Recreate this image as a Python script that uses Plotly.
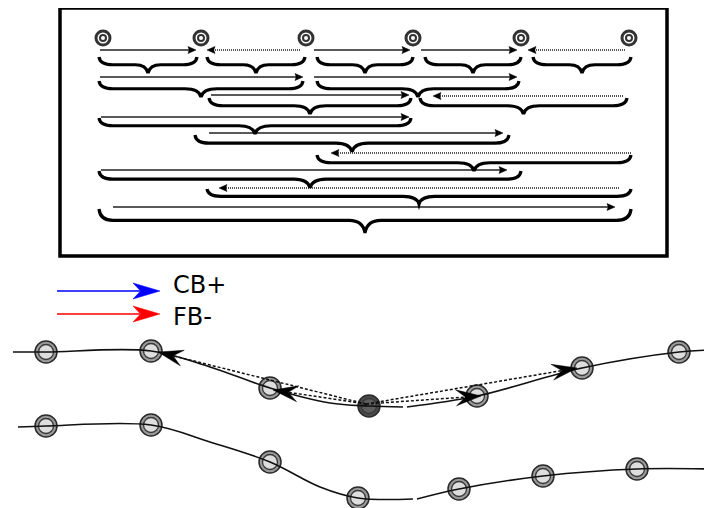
import math
import plotly.graph_objects as go

W, H = 712, 508
PAGE_OFF = 8  # default body margin of the html page

# ---------------- top box data ----------------
box_x = [60, 667]
box_y = [8, 256]

node_x = [103, 201, 306, 413, 521, 629]
node_y = [38, 38, 38, 38, 38, 38]

arr_x0 = [100, 300, 314, 421, 625, 100, 314, 211, 623, 101, 209, 631, 101, 619, 113]
arr_x1 = [196, 207, 410, 517, 528, 303, 517, 409, 433, 409, 503, 331, 507, 219, 615]
arr_y = [50, 50, 50, 50, 50, 77, 77, 95, 96, 117, 133, 153, 170, 188, 207]
arr_dotted = [False, True, False, False, True, False, False, False, True,
              False, False, True, False, True, False]

brace_x0 = [99, 207, 317, 425, 533, 99, 317, 209, 420, 99, 195, 317, 99, 207, 99]
brace_x1 = [197, 305, 413, 521, 631, 303, 519, 411, 627, 411, 509, 631, 521, 631, 631]
brace_top = [58, 58, 58, 58, 58, 82, 82, 99, 99, 119, 136, 156, 172, 190, 210]
brace_tip = [73, 73, 73, 73, 73, 97, 97, 114, 114, 134, 152, 171, 188, 204, 233]

# ---------------- legend ----------------
legend_labels = ["CB+", "FB-"]
legend_colors = ["#0000ff", "#ff0000"]
legend_y = [291, 314]
legend_text_y = [285, 317]
legend_x0 = 57
legend_x1 = 160

# ---------------- lower curves ----------------
upA_x = [13, 46, 151, 210, 270, 330, 369, 403]
upA_y = [352, 352, 351, 367, 388, 403, 406, 407]
upB_x = [407, 477, 582, 679, 712]
upB_y = [407, 396, 368, 352, 350]

loA_x = [18, 46, 151, 210, 270, 320, 358, 413]
loA_y = [427, 426, 425, 442, 462, 487, 498, 499]
loB_x = [417, 459, 543, 637, 708]
loB_y = [499, 489, 476, 469, 469]

up_node_x = [46, 151, 270, 477, 582, 679]
up_node_y = [352, 351, 388, 396, 368, 352]
lo_node_x = [46, 151, 270, 358, 459, 543, 637]
lo_node_y = [426, 425, 462, 498, 489, 476, 469]
dark_x = [369]
dark_y = [406]

dash_start = (366, 404)
dash_tip_x = [158, 273, 481, 577]
dash_tip_y = [352, 390, 396, 368]

fig = go.Figure()
shapes = []


def brace_path(x0, x1, yt, yb):
    xc = (x0 + x1) / 2.0
    ym = yt + 0.45 * (yb - yt)
    r = min(14, (x1 - x0) * 0.14)
    rc = min(16, (x1 - x0) * 0.13)
    return (f"M {x0},{yt - 1} Q {x0 + 1},{ym} {x0 + r},{ym} "
            f"L {xc - rc},{ym} Q {xc - 2},{ym} {xc},{yb} "
            f"Q {xc + 2},{ym} {xc + rc},{ym} "
            f"L {x1 - r},{ym} Q {x1 - 1},{ym} {x1},{yt - 1}")


def head_path(tx, ty, dx, dy, L, Wd, notch):
    n = math.hypot(dx, dy)
    ux, uy = dx / n, dy / n
    nx, ny = -uy, ux
    bx, by = tx - L * ux, ty - L * uy
    p1 = (bx + Wd * nx, by + Wd * ny)
    p2 = (tx - notch * L * ux, ty - notch * L * uy)
    p3 = (bx - Wd * nx, by - Wd * ny)
    return (f"M {tx},{ty} L {p1[0]},{p1[1]} L {p2[0]},{p2[1]} "
            f"L {p3[0]},{p3[1]} Z")


# box frame
shapes.append(dict(type="rect", xref="x", yref="y", x0=box_x[0], x1=box_x[1],
                   y0=box_y[0], y1=box_y[1], line=dict(color="black", width=3.5),
                   layer="below"))

# braces
for x0, x1, yt, yb in zip(brace_x0, brace_x1, brace_top, brace_tip):
    shapes.append(dict(type="path", xref="x", yref="y", path=brace_path(x0, x1, yt, yb),
                       line=dict(color="black", width=3.2)))

# box arrows
for x0, x1, y, dot in zip(arr_x0, arr_x1, arr_y, arr_dotted):
    d = 1 if x1 > x0 else -1
    fig.add_trace(go.Scatter(x=[x0, x1 - d * 5], y=[y, y], mode="lines",
                             line=dict(color="#222" if not dot else "#555",
                                       width=1.5 if not dot else 2,
                                       dash="solid" if not dot else "1px,1px"),
                             hoverinfo="skip", showlegend=False))
    shapes.append(dict(type="path", xref="x", yref="y",
                       path=head_path(x1, y, d, 0, 8, 3.5, 0.85),
                       fillcolor="black", line=dict(color="black", width=0.5)))

# box nodes (concentric)
fig.add_trace(go.Scatter(x=node_x, y=node_y, mode="markers",
                         marker=dict(size=14, color="white", line=dict(color="#333", width=3)),
                         hoverinfo="skip", showlegend=False))
fig.add_trace(go.Scatter(x=node_x, y=node_y, mode="markers",
                         marker=dict(size=6, color="white", line=dict(color="#333", width=2)),
                         hoverinfo="skip", showlegend=False))

# legend arrows + text
for lab, col, y, ty in zip(legend_labels, legend_colors, legend_y, legend_text_y):
    fig.add_trace(go.Scatter(x=[legend_x0, legend_x1 - 20], y=[y, y], mode="lines",
                             line=dict(color=col, width=1.5),
                             hoverinfo="skip", showlegend=False))
    shapes.append(dict(type="path", xref="x", yref="y",
                       path=head_path(legend_x1, y, 1, 0, 27, 8, 0.72),
                       fillcolor=col, line=dict(color=col, width=0.5)))
    fig.add_annotation(x=171, y=ty, xref="x", yref="y", text=lab, showarrow=False,
                       xanchor="left", yanchor="middle",
                       font=dict(family="DejaVu Sans", size=24, color="black"))

# lower nodes
def nodes(xs, ys, outer, inner):
    fig.add_trace(go.Scatter(x=xs, y=ys, mode="markers",
                             marker=dict(size=22, color=outer, line=dict(color="#2a2a2a", width=1.5)),
                             hoverinfo="skip", showlegend=False))
    fig.add_trace(go.Scatter(x=xs, y=ys, mode="markers",
                             marker=dict(size=15, color=inner, line=dict(color="#3a3a3a", width=1.3)),
                             hoverinfo="skip", showlegend=False))

nodes(up_node_x, up_node_y, "#9a9a9a", "#dedede")
nodes(lo_node_x, lo_node_y, "#9a9a9a", "#dedede")
nodes(dark_x, dark_y, "#4a4a4a", "#5e5e5e")

# curves
for xs, ys in [(upA_x, upA_y), (upB_x, upB_y), (loA_x, loA_y), (loB_x, loB_y)]:
    fig.add_trace(go.Scatter(x=xs, y=ys, mode="lines",
                             line=dict(color="#111", width=1.6, shape="spline", smoothing=1.0),
                             hoverinfo="skip", showlegend=False))

# dashed arrows
for tx, ty in zip(dash_tip_x, dash_tip_y):
    dx, dy = tx - dash_start[0], ty - dash_start[1]
    n = math.hypot(dx, dy)
    ex, ey = tx - dx / n * 12, ty - dy / n * 12
    fig.add_trace(go.Scatter(x=[dash_start[0], ex], y=[dash_start[1], ey], mode="lines",
                             line=dict(color="#111", width=1.5, dash="3px,2px"),
                             hoverinfo="skip", showlegend=False))
    shapes.append(dict(type="path", xref="x", yref="y",
                       path=head_path(tx, ty, dx, dy, 25, 8, 0.62),
                       fillcolor="black", line=dict(color="black", width=0.5)))

fig.update_layout(
    width=W - PAGE_OFF, height=H - PAGE_OFF, margin=dict(l=0, r=0, t=0, b=0),
    paper_bgcolor="white", plot_bgcolor="white",
    xaxis=dict(range=[PAGE_OFF, W], visible=False, fixedrange=True),
    yaxis=dict(range=[H, PAGE_OFF], visible=False, fixedrange=True),
    shapes=shapes,
)

fig.write_html("out.html")
